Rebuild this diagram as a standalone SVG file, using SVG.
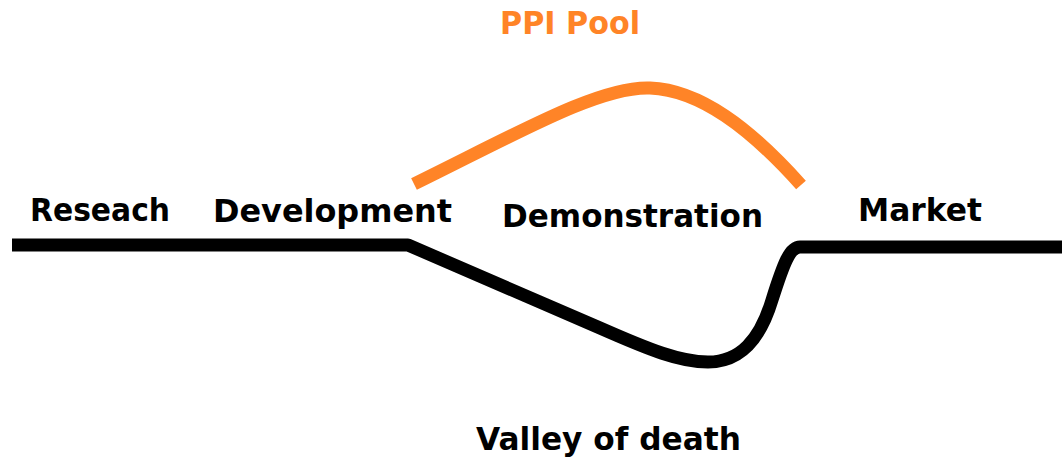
<svg xmlns="http://www.w3.org/2000/svg" width="1062" height="461" viewBox="0 0 1062 461">
<style>
text{font-family:"DejaVu Sans","Liberation Sans",sans-serif;font-weight:bold;font-size:32px;fill:#000}
.o{fill:#FF8427}
.line{fill:none;stroke-linecap:butt;stroke-linejoin:round;stroke-width:13}
</style>
<rect width="1062" height="461" fill="#fff"/>
<g id="connectors">
<path class="line" stroke="#000" d="M12,245 L408,245 L600,328 C650,350 680,362 708,362 C740,362 760,340 772,300 C784,262 790,247 800,247 L1062,247"/>
<path class="line" stroke="#FF8427" stroke-width="12" d="M414,184 C520,132 600,86 650,88 C700,90 750,128 801,185"/>
</g>
<g id="title"><text class="o" x="500" y="34" textLength="140" lengthAdjust="spacingAndGlyphs">PPI Pool</text></g>
<g id="research"><text x="30" y="221" textLength="140" lengthAdjust="spacingAndGlyphs">Reseach</text></g>
<g id="development"><text x="213" y="222" textLength="239" lengthAdjust="spacingAndGlyphs">Development</text></g>
<g id="demonstration"><text x="502" y="227" textLength="261" lengthAdjust="spacingAndGlyphs">Demonstration</text></g>
<g id="market"><text x="858" y="221" textLength="124" lengthAdjust="spacingAndGlyphs">Market</text></g>
<g id="valley"><text x="476" y="450" textLength="265" lengthAdjust="spacingAndGlyphs">Valley of death</text></g>
</svg>
